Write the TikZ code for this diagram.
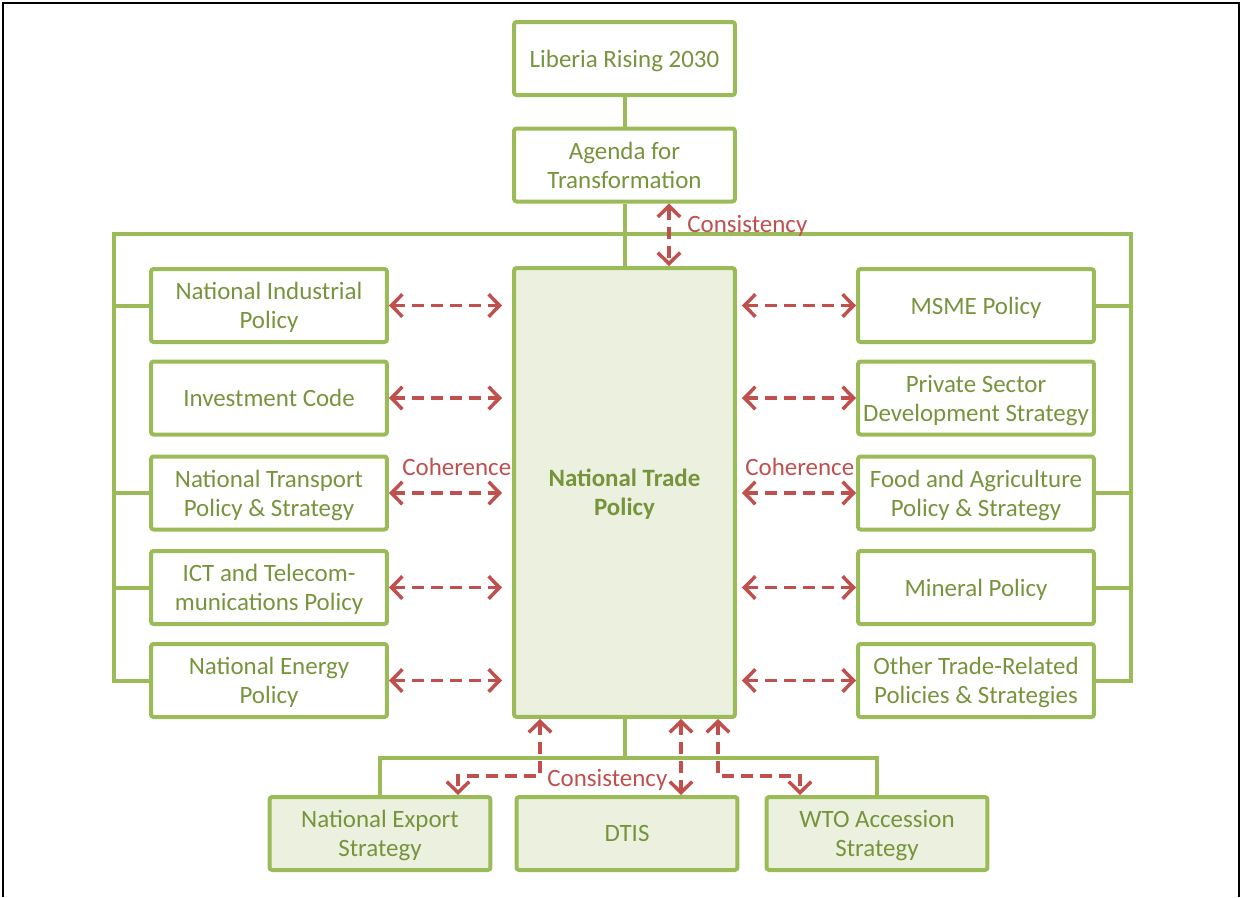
\documentclass[tikz,border=0pt]{standalone}
\usepackage{fontspec}
\setmainfont{Carlito}
\usetikzlibrary{arrows.meta}
\definecolor{boxgreen}{HTML}{9BBB59}
\definecolor{textgreen}{HTML}{77933C}
\definecolor{fillgreen}{HTML}{EBF1DE}
\definecolor{linkred}{HTML}{C0504D}

\begin{document}
\begin{tikzpicture}
[x=0.02cm,y=-0.02cm,
 policy/.style={rectangle,draw=boxgreen,line width=0.08cm,rounded corners=1.5pt,text=textgreen,align=center,inner sep=0pt,text depth=0pt,minimum width=4.72cm,minimum height=1.46cm,font=\fontsize{14.2}{16.6}\selectfont},
 topbox/.style={policy,minimum width=4.42cm},
 basebox/.style={policy,fill=fillgreen,minimum width=4.42cm},
 tradebox/.style={policy,fill=fillgreen,minimum width=4.42cm,minimum height=8.98cm,font=\fontsize{14.2}{16.6}\selectfont\bfseries},
 link/.style={draw=boxgreen,line width=0.08cm},
 arr/.style={draw=linkred,line width=0.07cm,dash pattern=on 0.24cm off 0.14cm,{Straight Barb[length=0.22cm,width=0.45cm]}-{Straight Barb[length=0.22cm,width=0.45cm]}},
 lbl/.style={text=linkred,inner sep=0pt,font=\fontsize{14.2}{16.6}\selectfont}]

\useasboundingbox (0,0) rectangle (1242,897);
\draw[line width=0.05cm] (3,897) -- (3,3) -- (1239,3) -- (1239,897);

% top of the chain
\node (lib) at (624.5,58.5) [topbox] {Liberia Rising 2030};
\node (aft) at (624.5,165) [topbox] {Agenda for\\Transformation};
\node (ntp) at (624.5,492.5) [tradebox] {National Trade\\Policy};

% left column
\node (nip) at (269,305.5) [policy] {National Industrial\\Policy};
\node (inv) at (269,398) [policy] {Investment Code};
\node (ntr) at (269,493) [policy] {National Transport\\Policy \& Strategy};
\node (ict) at (269,587.5) [policy] {ICT and Telecom-\\munications Policy};
\node (nep) at (269,680.5) [policy] {National Energy\\Policy};

% right column
\node (msme) at (976,305.5) [policy] {MSME Policy};
\node (psd) at (976,398) [policy] {Private Sector\\Development Strategy};
\node (fap) at (976,493) [policy] {Food and Agriculture\\Policy \& Strategy};
\node (min) at (976,587.5) [policy] {Mineral Policy};
\node (otr) at (976,680.5) [policy] {Other Trade-Related\\Policies \& Strategies};

% bottom row
\node (nes) at (380,833.5) [basebox] {National Export\\Strategy};
\node (dtis) at (627,833.5) [basebox] {DTIS};
\node (wto) at (877,833.5) [basebox] {WTO Accession\\Strategy};

% green tree
\coordinate (tl) at (114,234);
\coordinate (tr) at (1131,234);
\coordinate (bl) at (380,758);
\draw[link] (lib) -- (aft);
\draw[link] (aft) -- (ntp);
\draw[link] (nep.west) -| (tl) -- (tr) |- (otr.east);
\foreach \n in {nip,ntr,ict}
	\draw[link] (\n.west) -- (\n.west -| tl);
\foreach \n in {msme,fap,min}
	\draw[link] (\n.east) -- (\n.east -| tr);
\draw[link] (ntp.south) -- (ntp.south |- bl);
\draw[link] (nes.north) -- (nes.north |- bl) -- (wto.north |- bl) -- (wto.north);

% coherence arrows
\foreach \n in {nip,inv,ntr,ict,nep}
	\draw[arr,shorten >=0.2cm] (\n.east) -- (\n.east -| ntp.west);
\foreach \n in {msme,psd,fap,min,otr}
	\draw[arr,shorten <=0.1cm] (\n.west -| ntp.east) -- (\n.west);

% consistency arrows
\draw[arr] ([xshift=0.89cm]aft.south) -- ([xshift=0.89cm]ntp.north);
\draw[arr] ([xshift=1.13cm]ntp.south) -- ([xshift=1.13cm]ntp.south |- dtis.north);
\draw[arr] ([xshift=-1.69cm]ntp.south) -- ++(0,57) -| ([xshift=1.56cm]nes.north);
\draw[arr] ([xshift=1.87cm]ntp.south) -- ++(0,57) -| ([xshift=-1.54cm]wto.north);

\node (cs1) at (687,232) [lbl,anchor=base west] {Consistency};
\node (ch1) at (402,475) [lbl,anchor=base west] {Coherence};
\node (ch2) at (745,475) [lbl,anchor=base west] {Coherence};
\node (cs2) at (547,786) [lbl,anchor=base west] {Consistency};

\end{tikzpicture}
\end{document}
